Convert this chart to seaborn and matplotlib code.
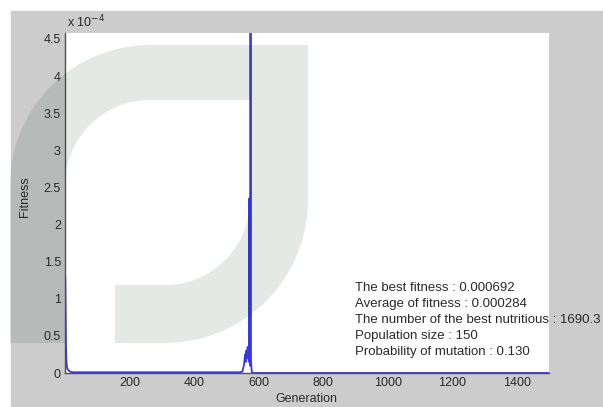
import numpy as np
import matplotlib
matplotlib.use("Agg")
import matplotlib.pyplot as plt
from matplotlib.patches import Rectangle, Polygon
from matplotlib.ticker import FuncFormatter
import seaborn as sns

# fitness per generation
generation = [1, 2, 3, 4, 5, 7, 10, 15, 25, 60, 200, 400, 540, 550, 555,
              558, 560, 562, 564, 566, 568, 570, 571, 572, 574, 575, 576,
              578, 580, 600, 800, 1000, 1200, 1500]
fitness = [1.30e-4, 0.85e-4, 0.40e-4, 0.20e-4, 0.12e-4, 0.06e-4, 0.04e-4,
           0.02e-4, 0.01e-4, 0.01e-4, 0.01e-4, 0.01e-4, 0.01e-4, 0.02e-4,
           0.12e-4, 0.25e-4, 0.15e-4, 0.30e-4, 0.20e-4, 0.35e-4, 0.25e-4,
           0.15e-4, 2.35e-4, 0.30e-4, 0.10e-4, 6.92e-4, 0.20e-4, 0.05e-4,
           0.0, 0.0, 0.0, 0.0, 0.0, 0.0]

x_ticks = [200, 400, 600, 800, 1000, 1200, 1400]
y_ticks = [0, 0.5e-4, 1e-4, 1.5e-4, 2e-4, 2.5e-4, 3e-4, 3.5e-4, 4e-4, 4.5e-4]

info_lines = ["The best fitness : 0.000692",
              "Average of fitness : 0.000284",
              "The number of the best nutritious : 1690.3",
              "Population size : 150",
              "Probability of mutation : 0.130"]

W, H = 603, 407


def px(x, y):
    # pixel (from top-left) -> figure fraction
    return x / W, 1 - y / H


def main():
    sns.set_style("white")
    plt.rcParams['font.family'] = ['Liberation Sans', 'DejaVu Sans']
    txt_col = '#2a2a2a'
    ax_col = '#505050'

    fig = plt.figure(figsize=(W / 100, H / 100), dpi=100)
    fig.patch.set_facecolor('white')
    # matlab grey figure area
    fig.add_artist(Rectangle(px(11, 407), (W - 11) / W, (407 - 11) / H,
                             transform=fig.transFigure, color='#cccccc',
                             zorder=-5))

    l, b = px(65, 373)
    r, t = px(549, 33)
    ax = fig.add_axes([l, b, r - l, t - b])
    ax.set_facecolor('white')

    sns.lineplot(x=generation, y=fitness, ax=ax, color='#3838e4',
                 linewidth=1.3)

    ax.set_xlim(0, 1500)
    ax.set_ylim(0, 4.58e-4)
    ax.set_xticks(x_ticks)
    ax.set_yticks(y_ticks)
    ax.yaxis.set_major_formatter(FuncFormatter(lambda v, p: '%g' % round(v / 1e-4, 2)))
    ax.tick_params(direction='in', length=4, width=0.8, colors=ax_col,
                   labelcolor=txt_col, labelsize=9, pad=3)
    for s in ['top', 'right']:
        ax.spines[s].set_visible(False)
    for s in ['left', 'bottom']:
        ax.spines[s].set_color(ax_col)
        ax.spines[s].set_linewidth(1)

    fig.text(*px(67, 22), r'x 10$^{-4}$', fontsize=9, color=txt_col,
             ha='left', va='center')
    fig.text(*px(25, 197), 'Fitness', rotation=90, fontsize=9,
             color=txt_col, ha='center', va='center')
    fig.text(*px(306, 399), 'Generation', fontsize=9, color=txt_col,
             ha='center', va='center')

    for i, line in enumerate(info_lines):
        fig.text(*px(355, 288 + 16 * i), line, fontsize=9.5, color=txt_col,
                 ha='left', va='center')

    # watermark band
    pts = [(10, 343), (10, 185)]
    a = np.linspace(np.pi, 1.5 * np.pi, 30)
    pts += [(150 + 140 * np.cos(t_), 185 + 140 * np.sin(t_)) for t_ in a]
    pts += [(308, 45), (308, 200)]
    a = np.linspace(0, 0.5 * np.pi, 30)
    pts += [(165 + 143 * np.cos(t_), 200 + 143 * np.sin(t_)) for t_ in a]
    pts += [(115, 343), (115, 285)]
    a = np.linspace(0.5 * np.pi, 0, 30)
    pts += [(165 + 85 * np.cos(t_), 200 + 85 * np.sin(t_)) for t_ in a]
    pts += [(250, 100)]
    a = np.linspace(1.5 * np.pi, np.pi, 30)
    pts += [(150 + 85 * np.cos(t_), 185 + 85 * np.sin(t_)) for t_ in a]
    pts += [(65, 343)]
    fig.add_artist(Polygon([px(x, y) for x, y in pts], closed=True,
                           transform=fig.transFigure, facecolor='#00331a',
                           edgecolor='none', alpha=0.105, zorder=10))

    plt.savefig('out.png', dpi=100)


if __name__ == "__main__":
    main()
